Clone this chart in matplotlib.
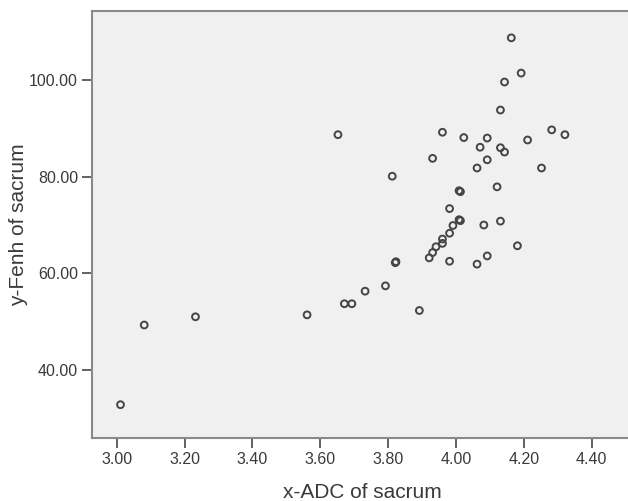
import matplotlib
matplotlib.use("Agg")
import matplotlib.pyplot as plt
import numpy as np

# ADC vs Fenh values
adc = [
    4.163, 4.192, 4.143, 4.131,
    3.652, 3.960, 4.023, 4.092, 4.071, 4.131, 4.143, 4.211, 4.282, 4.321,
    3.931, 4.092, 4.062, 4.252, 3.812,
    4.009, 4.013, 4.121, 3.981,
    4.009, 4.013, 3.991, 4.082, 4.131,
    3.981, 3.960, 3.960, 3.941, 3.931, 3.921,
    4.181, 4.092, 3.981, 4.062, 3.821, 3.823,
    3.792, 3.732, 3.671, 3.693, 3.561, 3.892,
    3.232, 3.081, 3.011,
]
fenh = [
    108.75, 101.45, 99.6, 93.8,
    88.7, 89.2, 88.1, 88.0, 86.1, 86.0, 85.1, 87.6, 89.7, 88.7,
    83.8, 83.5, 81.8, 81.8, 80.1,
    77.1, 76.9, 77.9, 73.4,
    71.1, 70.9, 69.9, 70.0, 70.8,
    68.3, 67.1, 66.2, 65.5, 64.3, 63.2,
    65.7, 63.6, 62.5, 61.9, 62.2, 62.4,
    57.4, 56.3, 53.7, 53.7, 51.4, 52.3,
    51.0, 49.3, 32.8,
]

x_ticks = [3.00, 3.20, 3.40, 3.60, 3.80, 4.00, 4.20, 4.40]
y_ticks = [40.0, 60.0, 80.0, 100.0]

text_color = "#3a3a3a"
frame_color = "#8a8a8a"

fig = plt.figure(figsize=(6.28, 5.01), dpi=100)
ax = fig.add_axes([0.1465, 0.1257, 0.86, 0.8523])
ax.set_facecolor("#f0f0f0")

ax.scatter(adc, fenh, s=24, facecolors="none", edgecolors="#454545",
           linewidths=1.4, zorder=3)

ax.set_xlim(2.927, 4.519)
ax.set_ylim(25.9, 114.3)

ax.set_xticks(x_ticks)
ax.set_xticklabels([f"{v:.2f}" for v in x_ticks])
ax.set_yticks(y_ticks)
ax.set_yticklabels([f"{v:.2f}" for v in y_ticks])

for side in ["left", "bottom", "top", "right"]:
    ax.spines[side].set_color(frame_color)
    ax.spines[side].set_linewidth(1.5)

ax.tick_params(axis="both", direction="out", length=7, width=1.3,
               color="#555555", labelcolor=text_color, labelsize=11.5, pad=3)
for lab in ax.get_xticklabels() + ax.get_yticklabels():
    lab.set_fontfamily("Liberation Sans")

ax.set_xlabel("x-ADC of sacrum", fontsize=15, color=text_color,
              fontfamily="Liberation Sans")
ax.xaxis.set_label_coords(0.5, -0.105)
ax.set_ylabel("y-Fenh of sacrum", fontsize=15, color=text_color,
              fontfamily="Liberation Sans")
ax.yaxis.set_label_coords(-0.118, 0.5)

fig.savefig("out.png", dpi=100)
